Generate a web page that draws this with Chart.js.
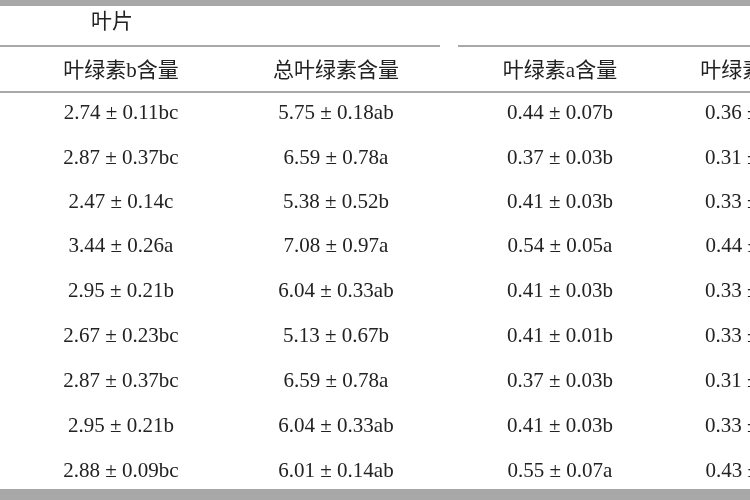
<!DOCTYPE html>
<html><head><meta charset="utf-8">
<script src="https://cdn.jsdelivr.net/npm/chart.js@4"></script>
<style>html,body{margin:0;padding:0;background:#fff}#w{width:750px;height:500px}</style>
</head><body><div id="w"><canvas id="c"></canvas></div>
<script>
const groupTitle = "叶片";
const headers = ["叶绿素b含量","总叶绿素含量","叶绿素a含量","叶绿素b含量"];
const colB = ["2.74 ± 0.11bc","2.87 ± 0.37bc","2.47 ± 0.14c","3.44 ± 0.26a","2.95 ± 0.21b","2.67 ± 0.23bc","2.87 ± 0.37bc","2.95 ± 0.21b","2.88 ± 0.09bc"];
const colTotal = ["5.75 ± 0.18ab","6.59 ± 0.78a","5.38 ± 0.52b","7.08 ± 0.97a","6.04 ± 0.33ab","5.13 ± 0.67b","6.59 ± 0.78a","6.04 ± 0.33ab","6.01 ± 0.14ab"];
const colA2 = ["0.44 ± 0.07b","0.37 ± 0.03b","0.41 ± 0.03b","0.54 ± 0.05a","0.41 ± 0.03b","0.41 ± 0.01b","0.37 ± 0.03b","0.41 ± 0.03b","0.55 ± 0.07a"];
const colB2 = ["0.36 ± 0.03b","0.31 ± 0.02b","0.33 ± 0.02b","0.44 ± 0.04a","0.33 ± 0.02b","0.33 ± 0.01b","0.31 ± 0.02b","0.33 ± 0.02b","0.43 ± 0.05a"];
const columns = [colB, colTotal, colA2, colB2];
const colX = [121, 336, 560, 758];
const rowY = [113, 158, 202, 246, 291, 336, 381, 426, 471];

const tablePlugin = {
  id: 'table',
  afterDatasetsDraw(chart) {
    const {ctx, scales:{x, y}} = chart;
    ctx.save();
    ctx.fillStyle = '#a8a8a8';
    ctx.fillRect(x.getPixelForValue(0), y.getPixelForValue(0), 750, y.getPixelForValue(6)-y.getPixelForValue(0));
    ctx.fillRect(x.getPixelForValue(0), y.getPixelForValue(489), 750, 11);
    ctx.strokeStyle = '#555'; ctx.lineWidth = 1.2;
    const hl = (x0,x1,yy)=>{ctx.beginPath();ctx.moveTo(x.getPixelForValue(x0),y.getPixelForValue(yy));ctx.lineTo(x.getPixelForValue(x1),y.getPixelForValue(yy));ctx.stroke();};
    hl(0,440,46); hl(458,750,46); hl(0,750,92);
    ctx.fillStyle = '#222';
    ctx.textAlign = 'center'; ctx.textBaseline = 'middle';
    ctx.font = '21px "Liberation Serif","Noto Sans CJK SC",serif';
    ctx.fillText(groupTitle, x.getPixelForValue(112), y.getPixelForValue(22));
    headers.forEach((h,i)=>ctx.fillText(h, x.getPixelForValue(colX[i]), y.getPixelForValue(71)));
    columns.forEach((col,i)=>col.forEach((v,j)=>ctx.fillText(v, x.getPixelForValue(colX[i]), y.getPixelForValue(rowY[j]))));
    ctx.restore();
  }
};

new Chart(document.getElementById('c'), {
  type: 'scatter',
  data: { datasets: [{ data: rowY.map(v=>({x:0,y:v})), pointRadius: 0 }] },
  options: {
    responsive: true, maintainAspectRatio: false, animation: false,
    layout: { padding: 0 },
    plugins: { legend: {display:false}, tooltip: {enabled:false} },
    scales: {
      x: { type:'linear', min:0, max:750, display:false },
      y: { type:'linear', min:0, max:500, reverse:true, display:false }
    }
  },
  plugins: [tablePlugin]
});
</script></body></html>
